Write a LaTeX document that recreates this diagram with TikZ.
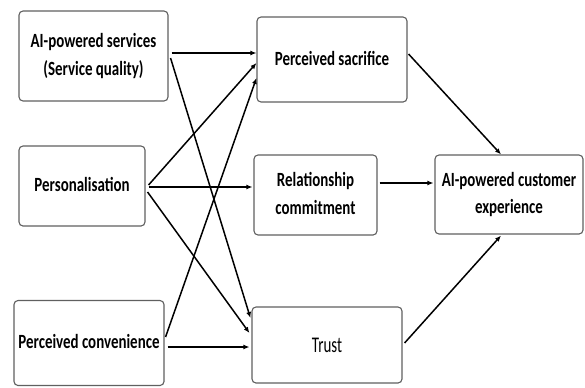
\documentclass[tikz,border=0pt]{standalone}
\usepackage{fontspec}
\setmainfont{Carlito}
\usepackage{graphicx}
\usetikzlibrary{calc,arrows.meta}

% tall, narrow label text with generous line spacing
\newcommand{\boxtext}[1]{\scalebox{1}[1.35]{\fontsize{15}{20.7}\selectfont\begin{tabular}{@{}c@{}}#1\end{tabular}}}

\begin{document}
\begin{tikzpicture}[x=1bp,y=-1bp,
  construct/.style={draw=gray!75!black, line width=1.1bp, rounded corners=4bp,
    fill=white, inner sep=0pt, font=\bfseries},
  link/.style={draw=black, line width=1.5bp, -{Latex[length=6bp,width=5bp]}},
  flat/.style={link, line width=2.1bp}]
\useasboundingbox (0,0) rectangle (585,387);

% constructs
\node[construct, minimum width=149bp, minimum height=90bp] (A) at (93.5,56)
  {\boxtext{AI-powered services\\(Service quality)}};
\node[construct, minimum width=126bp, minimum height=80bp] (P) at (82,186)
  {\boxtext{Personalisation}};
\node[construct, minimum width=150bp, minimum height=85bp] (C) at (89,343)
  {\boxtext{Perceived convenience}};
\node[construct, minimum width=150bp, minimum height=85bp] (S) at (332,59.5)
  {\boxtext{Perceived sacrifice}};
\node[construct, minimum width=123bp, minimum height=80bp] (R) at (315.5,195)
  {\boxtext{Relationship\\commitment}};
\node[construct, minimum width=150bp, minimum height=76bp, font=\mdseries] (T) at (327,345)
  {\scalebox{1}[1.5]{\fontsize{15}{18}\selectfont Trust}};
\node[construct, minimum width=148bp, minimum height=79bp] (E) at (509,194.5)
  {\boxtext{AI-powered customer\\experience}};

% paths into the mediators
\draw[flat] ($(A.east)+(3,-3)$) -- ($(S.west)+(0,-6.5)$);
\draw[link] ($(A.east)+(2,2)$) -- ($(T.west)+(-1,-27)$);
\draw[link] ($(P.east)+(3,-1)$) -- ($(S.west)+(0,3.5)$);
\draw[flat] ($(P.east)+(3,1)$) -- ($(R.west)+(-1,-8)$);
\draw[link] ($(P.east)+(2,6)$) -- ($(T.west)+(-2,-12)$);
\draw[link] ($(C.east)+(1,-6)$) -- ($(S.west)+(0,18.5)$);
\draw[flat] ($(C.east)+(3,4)$) -- ($(T.west)+(-2,2)$);

% paths into the outcome
\draw[link] ($(S.east)+(1,-5.5)$) -- ($(E.north)+(-8,0)$);
\draw[flat] ($(R.east)+(2,-12)$) -- ($(E.west)+(-1,-11.5)$);
\draw[link] ($(T.east)+(2,-2)$) -- ($(E.south)+(-8,1)$);
\end{tikzpicture}
\end{document}
